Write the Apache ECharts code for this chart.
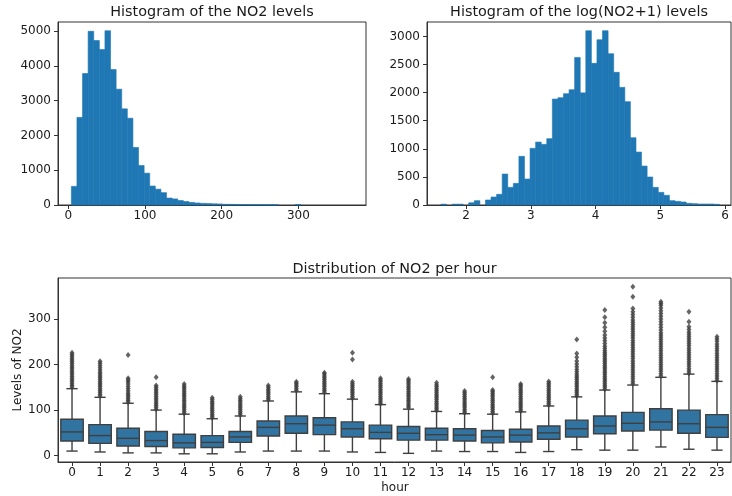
<!DOCTYPE html>
<html>
<head>
<meta charset="utf-8">
<script src="https://cdn.jsdelivr.net/npm/echarts@6/dist/echarts.min.js"></script>
<style>
html,body{margin:0;padding:0;background:#fff;}
#chart{width:732px;height:496px;}
</style>
</head>
<body>
<div id="chart"></div>
<script>
// ---------- Histogram of NO2 levels ----------
const no2Min = 4;
const no2Max = 369;
const no2Counts = [536, 2520, 3780, 4995, 4730, 4470, 5010, 3895, 3330, 2765,
  2495, 1655, 1135, 915, 545, 455, 355, 200, 175, 130,
  100, 75, 58, 48, 42, 35, 30, 20, 18, 16,
  14, 14, 12, 12, 10, 10, 8, 0, 0, 0,
  15, 0, 0, 0, 0, 0, 0, 0, 0, 0];
const no2XTicks = [0, 100, 200, 300];
const no2YTicks = [0, 1000, 2000, 3000, 4000, 5000];

// ---------- Histogram of log(NO2+1) ----------
const logMin = 1.609;
const logMax = 5.914;
const logCounts = [15, 0, 15, 15, 0, 40, 77, 0, 89, 142,
  190, 551, 314, 385, 866, 462, 1008, 1120, 1079, 1180,
  1885, 1909, 1980, 2051, 2626, 1995, 3101, 2520, 2940, 3101,
  2692, 2360, 2093, 1838, 1197, 942, 693, 498, 314, 225,
  172, 77, 65, 53, 30, 24, 18, 18, 18, 12];
const logXTicks = [2, 3, 4, 5, 6];
const logYTicks = [0, 500, 1000, 1500, 2000, 2500, 3000];

// ---------- Box plot per hour ----------
const hours = ['0','1','2','3','4','5','6','7','8','9','10','11','12','13','14','15','16','17','18','19','20','21','22','23'];
const whiskerLow  = [10, 8, 6, 6, 4, 4, 8, 10, 10, 10, 8, 7, 5, 10, 9, 9, 7, 9, 13, 12, 12, 19, 14, 12];
const q1          = [32, 27, 21, 20, 17, 18, 29, 43, 49, 46, 41, 37, 34, 34, 32, 28, 30, 36, 41, 48, 54, 56, 49, 40];
const medians     = [52, 44, 38, 33, 28, 29, 41, 62, 70, 67, 59, 51, 49, 46, 45, 41, 45, 50, 59, 65, 71, 74, 70, 62];
const q3          = [80, 68, 60, 53, 47, 44, 53, 76, 87, 83, 74, 67, 64, 60, 59, 55, 58, 65, 78, 87, 95, 103, 100, 90];
const whiskerHigh = [147, 128, 115, 100, 91, 81, 87, 120, 140, 136, 124, 112, 102, 97, 92, 91, 96, 109, 129, 144, 155, 172, 179, 163];
const outliers = [
  [150,154,158,162,166,170,174,178,182,186,190,194,198,202,206,210,214,218,222,226],
  [131,135,139,143,147,151,155,159,163,167,171,175,179,183,188,193,198,203,207],
  [117,121,125,129,133,137,142,147,152,157,162,166,170,221],
  [102,106,110,114,118,122,126,130,134,138,142,146,150,154,172],
  [93,97,101,105,109,113,117,121,125,129,133,137,141,145,149,153,157],
  [83,87,91,95,99,103,107,111,115,119,123,127],
  [89,93,97,101,105,109,113,117,121,125,129],
  [122,126,130,134,138,142,146,150,154],
  [143,147,151,155,159,162],
  [139,143,147,151,155,159,163,167,171,175,179,182],
  [126,130,134,138,142,146,150,154,158,162,211,226],
  [114,118,122,126,130,134,138,142,146,150,154,158,162,166,170],
  [105,109,113,117,121,125,129,133,137,141,145,149,153,157,161,165,168],
  [99,103,107,111,115,119,123,127,131,135,139,143,147,151,155,160],
  [94,98,102,106,110,114,118,122,126,130,134,138,142],
  [93,97,101,105,109,113,117,121,125,129,133,137,141,144,172],
  [98,102,106,110,114,118,122,126,130,134,138,142,146,150,154,157],
  [111,115,119,123,127,131,135,139,143,147,151,155,159,163],
  [131,135,139,143,147,151,155,159,163,167,171,175,179,184,189,195,201,208,216,224,255],
  [146,150,154,158,162,166,170,174,178,182,186,190,194,198,202,206,210,214,218,222,226,230,235,240,246,252,258,265,273,282,292,304,320],
  [158,163,168,173,178,183,188,193,198,203,208,213,218,223,228,233,238,243,248,253,258,263,268,273,278,283,288,293,298,304,310,316,323,349,371],
  [175,180,185,190,195,200,205,210,215,220,225,230,235,240,245,250,255,260,265,270,276,282,288,294,300,306,312,318,324,330,334,338],
  [181,186,191,196,201,206,211,216,221,226,231,236,241,246,251,256,261,266,271,277,283,294,316],
  [165,170,175,180,185,190,195,200,205,210,215,220,225,230,235,240,245,251,256,261]
];
const boxYTicks = [0, 100, 200, 300];

// ---------- build ----------
const FONT = 'DejaVu Sans';
const TXT = '#1a1a1a';
const SPINE = '#333333';
const BLUE = '#1f77b4';
const BOXBLUE = '#3274a1';
const GRAY = '#3f3f3f';

function histData(counts, lo, hi) {
  const w = (hi - lo) / counts.length;
  return counts.map((c, i) => [lo + i * w, lo + (i + 1) * w, c]);
}
function histRender(params, api) {
  const p0 = api.coord([api.value(0), api.value(2)]);
  const p1 = api.coord([api.value(1), 0]);
  return {
    type: 'rect',
    shape: { x: p0[0], y: p0[1], width: p1[0] - p0[0], height: p1[1] - p0[1] },
    style: { fill: BLUE, stroke: api.value(2) > 0 ? BLUE : null, lineWidth: 0.6 }
  };
}
function boxRender(params, api) {
  const x = api.value(0);
  const lo = api.coord([x, api.value(1)]);
  const b1 = api.coord([x, api.value(2)]);
  const md = api.coord([x, api.value(3)]);
  const b3 = api.coord([x, api.value(4)]);
  const hi = api.coord([x, api.value(5)]);
  const band = api.size([1, 0])[0];
  const bw = band * 0.8;
  const cx = lo[0];
  const ls = { stroke: GRAY, lineWidth: 1.4 };
  return {
    type: 'group',
    children: [
      { type: 'line', shape: { x1: cx, y1: b1[1], x2: cx, y2: lo[1] }, style: ls },
      { type: 'line', shape: { x1: cx, y1: b3[1], x2: cx, y2: hi[1] }, style: ls },
      { type: 'line', shape: { x1: cx - bw / 4, y1: lo[1], x2: cx + bw / 4, y2: lo[1] }, style: ls },
      { type: 'line', shape: { x1: cx - bw / 4, y1: hi[1], x2: cx + bw / 4, y2: hi[1] }, style: ls },
      { type: 'rect', shape: { x: cx - bw / 2, y: b3[1], width: bw, height: b1[1] - b3[1] },
        style: { fill: BOXBLUE, stroke: GRAY, lineWidth: 1.4 } },
      { type: 'line', shape: { x1: cx - bw / 2, y1: md[1], x2: cx + bw / 2, y2: md[1] }, style: ls }
    ]
  };
}

const boxData = hours.map((h, i) => [i, whiskerLow[i], q1[i], medians[i], q3[i], whiskerHigh[i]]);
const outlierData = [];
outliers.forEach((arr, i) => arr.forEach(v => outlierData.push([i, v])));

function valAxis(gridIndex, min, max, ticks, margin) {
  return {
    type: 'value', gridIndex, min, max, scale: true,
    axisLine: { show: true, onZero: false, lineStyle: { color: SPINE, width: 1 } },
    splitLine: { show: false },
    axisTick: { show: true, customValues: ticks, length: 4, lineStyle: { color: SPINE, width: 1 } },
    axisLabel: { customValues: ticks, fontSize: 12, fontFamily: FONT, color: TXT, margin: margin,
      formatter: v => String(v) }
  };
}

const chart = echarts.init(document.getElementById('chart'), null, { renderer: 'canvas' });
chart.setOption({
  animation: false,
  backgroundColor: '#ffffff',
  grid: [
    { left: 58, top: 22, width: 308, height: 183, show: true, borderColor: SPINE, borderWidth: 1, backgroundColor: 'transparent' },
    { left: 427, top: 22, width: 304, height: 183, show: true, borderColor: SPINE, borderWidth: 1, backgroundColor: 'transparent' },
    { left: 58, top: 278, width: 673, height: 184, show: true, borderColor: SPINE, borderWidth: 1, backgroundColor: 'transparent' }
  ],
  xAxis: [
    valAxis(0, -13.4, 388.2, no2XTicks, 5),
    valAxis(1, 1.395, 6.09, logXTicks, 5),
    {
      type: 'category', gridIndex: 2, data: hours, boundaryGap: true,
      axisLine: { show: true, onZero: false, lineStyle: { color: SPINE, width: 1 } },
      axisTick: { show: true, alignWithLabel: true, length: 4, interval: 0, lineStyle: { color: SPINE } },
      axisLabel: { interval: 0, fontSize: 12, fontFamily: FONT, color: TXT, margin: 5 },
      splitLine: { show: false }
    }
  ],
  yAxis: [
    valAxis(0, 0, 5262, no2YTicks, 7),
    valAxis(1, 0, 3256, logYTicks, 7),
    valAxis(2, -14, 390, boxYTicks, 7)
  ],
  series: [
    { type: 'custom', xAxisIndex: 0, yAxisIndex: 0, renderItem: histRender,
      data: histData(no2Counts, no2Min, no2Max), encode: { x: [0, 1], y: 2 }, silent: true },
    { type: 'custom', xAxisIndex: 1, yAxisIndex: 1, renderItem: histRender,
      data: histData(logCounts, logMin, logMax), encode: { x: [0, 1], y: 2 }, silent: true },
    { type: 'custom', xAxisIndex: 2, yAxisIndex: 2, renderItem: boxRender,
      data: boxData, encode: { x: 0, y: [1, 2, 3, 4, 5] }, silent: true },
    { type: 'scatter', xAxisIndex: 2, yAxisIndex: 2, data: outlierData,
      symbol: 'diamond', symbolSize: [5, 6], itemStyle: { color: GRAY }, silent: true }
  ],
  graphic: [
    { type: 'text', x: 212, y: 12.5, style: { text: 'Histogram of the NO2 levels', font: '14.4px "DejaVu Sans"', fill: TXT, align: 'center', verticalAlign: 'middle' } },
    { type: 'text', x: 579, y: 12.5, style: { text: 'Histogram of the log(NO2+1) levels', font: '14.4px "DejaVu Sans"', fill: TXT, align: 'center', verticalAlign: 'middle' } },
    { type: 'text', x: 394.5, y: 269, style: { text: 'Distribution of NO2 per hour', font: '14.4px "DejaVu Sans"', fill: TXT, align: 'center', verticalAlign: 'middle' } },
    { type: 'text', x: 17.5, y: 370, rotation: Math.PI / 2, style: { text: 'Levels of NO2', font: '12px "DejaVu Sans"', fill: TXT, align: 'center', verticalAlign: 'middle' } },
    { type: 'text', x: 395, y: 487.5, style: { text: 'hour', font: '12px "DejaVu Sans"', fill: TXT, align: 'center', verticalAlign: 'middle' } }
  ]
});
</script>
</body>
</html>
